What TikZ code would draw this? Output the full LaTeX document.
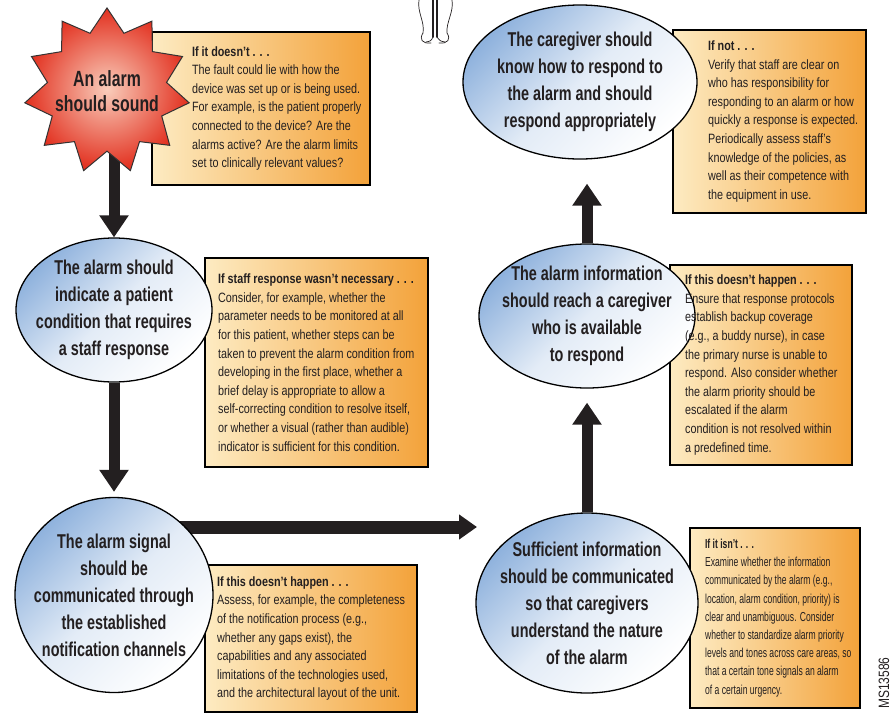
\documentclass[tikz,border=0pt]{standalone}
\usepackage{fontspec}
\setmainfont{Liberation Sans}[FakeStretch = 0.8]
\newfontfamily\bubblefont{Liberation Sans}[FakeStretch = 0.72]
\newfontfamily\narrowfont{Liberation Sans}[FakeStretch = 0.66, Ligatures = TeX]
\usepackage{tikz}
\usetikzlibrary{arrows.meta}
\usetikzlibrary{shapes.geometric}
\usetikzlibrary{backgrounds}
\definecolor{ink}{HTML}{231F20}
\definecolor{alarmred}{HTML}{E2301F}
\definecolor{alarmpink}{HTML}{F9CDBB}
\definecolor{bubbleblue}{HTML}{8FB2DD}
\definecolor{notecream}{HTML}{FDEBC2}
\definecolor{noteorange}{HTML}{F3A23A}
\tikzset{burst/.style = {star, star points = 11, star point ratio = 1.38, minimum size = 166pt, inner sep = -20pt, draw = black!80, line width = 1pt, inner color = alarmpink, outer color = alarmred, align = center, text = ink, font = \bubblefont\bfseries\fontsize{22}{25}\selectfont}}
\tikzset{bubble/.style = {ellipse, draw = black, line width = 1.3pt, top color = bubbleblue, bottom color = white, middle color = bubbleblue!25!white, shading angle = 45, inner xsep = -20pt, inner ysep = -8pt, align = center, text = ink, font = \bubblefont\bfseries\fontsize{20}{27}\selectfont}}
\tikzset{note/.style = {draw = black, line width = 2.2pt, left color = notecream, right color = noteorange, inner sep = 0pt}}
\tikzset{notetext/.style = {anchor = west, align = left, inner sep = 0pt, text = ink, font = \fontsize{13.5}{18.6}\selectfont}}
\tikzset{flow/.style = {draw = ink, line width = 11pt, -{Triangle[length = 22pt, width = 28pt]}}}
\tikzset{sketch/.style = {draw = ink, line width = 0.7pt, line cap = round}}

\begin{document}
\begin{tikzpicture}[x = 1pt, y = -1pt]
  \useasboundingbox (0, 0) rectangle (894, 715);

  \node [burst] (alarm) at (107, 91) {An alarm\\should sound};
  \node [bubble, minimum width = 196pt, minimum height = 144pt] (indicate) at (114, 310) {The alarm should\\indicate a patient\\condition that requires\\a staff response};
  \node [bubble, minimum width = 198pt, minimum height = 195pt] (signal) at (114, 595) {The alarm signal\\should be\\communicated through\\the established\\notification channels};
  \node [bubble, minimum width = 222pt, minimum height = 180pt] (info) at (587, 603) {Sufficient information\\should be communicated\\so that caregivers\\understand the nature\\of the alarm};
  \node [bubble, minimum width = 216pt, minimum height = 144pt] (reach) at (587, 316) {The alarm information\\should reach a caregiver\\who is available\\to respond};
  \node [bubble, minimum width = 234pt, minimum height = 154pt] (respond) at (580, 82) {The caregiver should\\know how to respond to\\the alarm and should\\respond appropriately};

  \coordinate (tip) at (477, 527);

  \begin{pgfonlayer}{background}
    \node [note, minimum width = 218pt, minimum height = 153pt] (alarmnote) at (261, 108.5) {};
    \node [note, minimum width = 223pt, minimum height = 209pt] (indicatenote) at (316.5, 362.5) {};
    \node [note, minimum width = 212pt, minimum height = 147pt] (signalnote) at (311, 638.5) {};
    \node [note, minimum width = 170pt, minimum height = 180pt] (infonote) at (775, 618) {};
    \node [note, minimum width = 182pt, minimum height = 200pt] (reachnote) at (761, 365) {};
    \node [note, minimum width = 193pt, minimum height = 183pt] (respondnote) at (769.5, 121.5) {};

    \draw [flow] (indicate |- alarm) -- (indicate.north);
    \draw [flow, shorten > = 5pt] (indicate) -- (signal.north);
    \draw [flow, line width = 13pt, -{Triangle[length = 18pt, width = 24pt]}] (signal |- tip) -- (tip);
    \draw [flow, shorten > = 14pt] (info) -- (reach.south);
    \draw [flow, shorten > = 24pt] (reach) -- (reach |- respond.south);
  \end{pgfonlayer}

  \node [notetext] (alarmtext) at ([xshift = 41pt] alarmnote.west) {{\bfseries If it doesn't . . .}\\The fault could lie with how the\\device was set up or is being used.\\For example, is the patient properly\\connected to the device? Are the\\alarms active? Are the alarm limits\\set to clinically relevant values?};
  \node [notetext] (indicatetext) at ([xshift = 14pt] indicatenote.west) {{\bfseries If staff response wasn't necessary . . .}\\Consider, for example, whether the\\parameter needs to be monitored at all\\for this patient, whether steps can be\\taken to prevent the alarm condition from\\developing in the first place, whether a\\brief delay is appropriate to allow a\\self-correcting condition to resolve itself,\\or whether a visual (rather than audible)\\indicator is sufficient for this condition.};
  \node [notetext] (signaltext) at ([xshift = 13pt] signalnote.west) {{\bfseries If this doesn't happen . . .}\\Assess, for example, the completeness\\of the notification process (e.g.,\\whether any gaps exist), the\\capabilities and any associated\\limitations of the technologies used,\\and the architectural layout of the unit.};
  \node [notetext, font = \narrowfont\fontsize{13}{18.2}\selectfont] (infotext) at ([xshift = 16pt] infonote.west) {{\bfseries If it isn't . . .}\\Examine whether the information\\communicated by the alarm (e.g.,\\location, alarm condition, priority) is\\clear and unambiguous. Consider\\whether to standardize alarm priority\\levels and tones across care areas, so\\that a certain tone signals an alarm\\of a certain urgency.};
  \node [notetext] (reachtext) at ([xshift = 16pt] reachnote.west) {{\bfseries If this doesn't happen . . .}\\Ensure that response protocols\\establish backup coverage\\(e.g., a buddy nurse), in case\\the primary nurse is unable to\\respond. Also consider whether\\the alarm priority should be\\escalated if the alarm\\condition is not resolved within\\a predefined time.};
  \node [notetext] (respondtext) at ([xshift = 36pt] respondnote.west) {{\bfseries If not . . .}\\Verify that staff are clear on\\who has responsibility for\\responding to an alarm or how\\quickly a response is expected.\\Periodically assess staff's\\knowledge of the policies, as\\well as their competence with\\the equipment in use.};

  \node [rotate = 90, text = ink, inner sep = 0pt, font = \fontsize{15}{15}\selectfont] (code) at (884, 683) {MS13586};

  \draw [sketch] (419, 0) .. controls (417, 12) and (425, 22) .. (423, 33) .. controls (419, 39) and (422, 44) .. (431, 43);
  \draw [sketch] (452, 0) .. controls (454, 12) and (446, 22) .. (447, 33) .. controls (451, 39) and (448, 44) .. (439, 43);
  \draw [sketch, line width = 1.6pt] (433, 0) -- (433, 37);
  \draw [sketch, line width = 1.6pt] (437, 0) -- (437, 37);
  \draw [sketch] (433, 37) .. controls (431, 41) .. (426, 42);
  \draw [sketch] (437, 37) .. controls (440, 41) .. (445, 42);
\end{tikzpicture}
\end{document}
